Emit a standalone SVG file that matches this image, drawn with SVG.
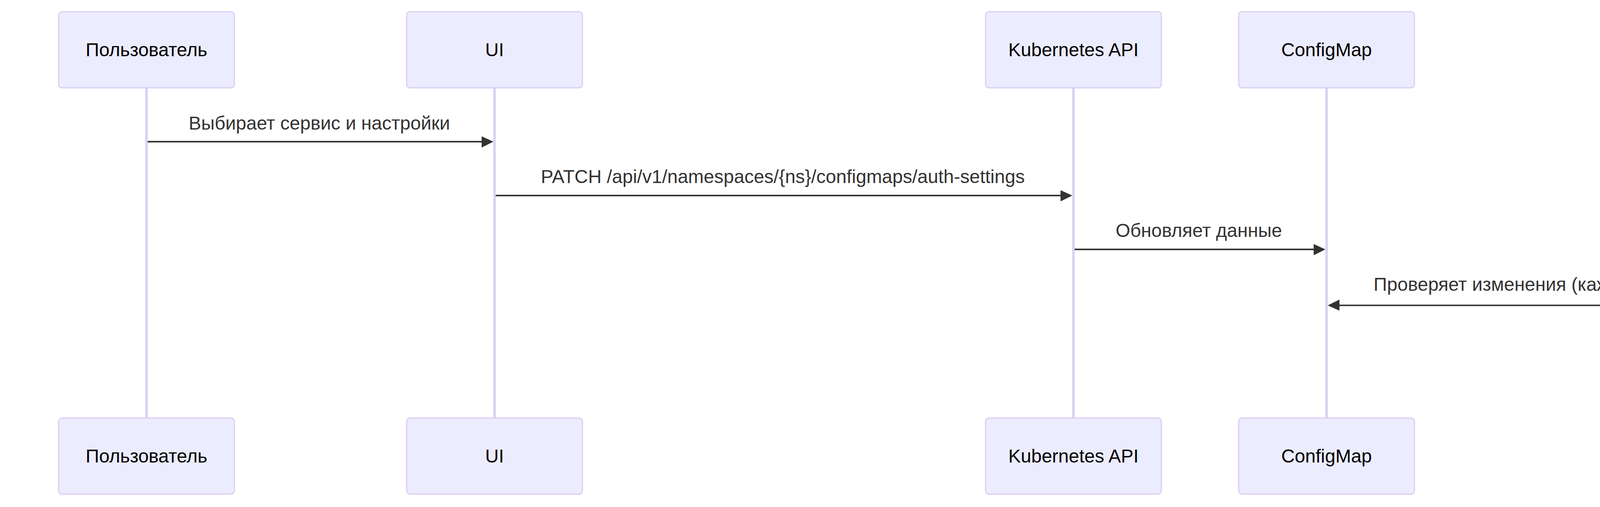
<svg xmlns="http://www.w3.org/2000/svg" width="4975" height="1299" viewBox="0 0 4975 1299">
<style>
.actor{fill:#ECECFF;stroke:#DACEF3;stroke-width:1}
.life{stroke:#DACEF3;stroke-width:2}
.atext{font-family:"Liberation Sans",Arial,sans-serif;font-size:16px;fill:#000;text-anchor:middle}
.mtext{font-family:"Liberation Sans",Arial,sans-serif;font-size:16px;fill:#333;text-anchor:middle}
.msg{stroke:#333;stroke-width:1.3;fill:none}
</style>
<defs>
<marker id="arrowhead" refX="7.9" refY="5" markerUnits="userSpaceOnUse" markerWidth="12" markerHeight="12" orient="auto">
<path d="M -1 0 L 10 5 L 0 10 z" fill="#333"/>
</marker>
</defs>
<rect width="4975" height="1299" fill="#fff"/>
<g transform="matrix(3 0 0 3 150 30)">
<g id="user">
<line class="life" x1="75" y1="65" x2="75" y2="347"/>
<rect class="actor" x="0" y="0" width="150" height="65" rx="3" ry="3"/>
<text class="atext" x="75" y="38">Пользователь</text>
<rect class="actor" x="0" y="347" width="150" height="65" rx="3" ry="3"/>
<text class="atext" x="75" y="385">Пользователь</text>
</g>
<g id="ui">
<line class="life" x1="372" y1="65" x2="372" y2="347"/>
<rect class="actor" x="297" y="0" width="150" height="65" rx="3" ry="3"/>
<text class="atext" x="372" y="38">UI</text>
<rect class="actor" x="297" y="347" width="150" height="65" rx="3" ry="3"/>
<text class="atext" x="372" y="385">UI</text>
</g>
<g id="k8s">
<line class="life" x1="866" y1="65" x2="866" y2="347"/>
<rect class="actor" x="791" y="0" width="150" height="65" rx="3" ry="3"/>
<text class="atext" x="866" y="38">Kubernetes API</text>
<rect class="actor" x="791" y="347" width="150" height="65" rx="3" ry="3"/>
<text class="atext" x="866" y="385">Kubernetes API</text>
</g>
<g id="configmap">
<line class="life" x1="1082" y1="65" x2="1082" y2="347"/>
<rect class="actor" x="1007" y="0" width="150" height="65" rx="3" ry="3"/>
<text class="atext" x="1082" y="38">ConfigMap</text>
<rect class="actor" x="1007" y="347" width="150" height="65" rx="3" ry="3"/>
<text class="atext" x="1082" y="385">ConfigMap</text>
</g>
<g id="sidecar">
<line class="life" x1="1447" y1="65" x2="1447" y2="347"/>
<rect class="actor" x="1372" y="0" width="150" height="65" rx="3" ry="3"/>
<text class="atext" x="1447" y="38">Сайдкар</text>
<rect class="actor" x="1372" y="347" width="150" height="65" rx="3" ry="3"/>
<text class="atext" x="1447" y="385">Сайдкар</text>
</g>
<g id="connectors">
<line class="msg" x1="76" y1="111" x2="368.9" y2="111" marker-end="url(#arrowhead)"/>
<text class="mtext" x="222.5" y="100.5">Выбирает сервис и настройки</text>
<line class="msg" x1="373" y1="157" x2="862.9" y2="157" marker-end="url(#arrowhead)"/>
<text class="mtext" x="618" y="146.3">PATCH /api/v1/namespaces/{ns}/configmaps/auth-settings</text>
<line class="msg" x1="867" y1="203" x2="1078.9" y2="203" marker-end="url(#arrowhead)"/>
<text class="mtext" x="973" y="192.3">Обновляет данные</text>
<line class="msg" x1="1446" y1="250.8" x2="1085.1" y2="250.8" marker-end="url(#arrowhead)"/>
<text class="mtext" x="1265.5" y="238.3">Проверяет изменения (каждые 10 сек)</text>
<path class="msg" style="stroke-width:1.5" d="M 1447 296.7 C 1507 286.7 1507 326.7 1447 316.7" marker-end="url(#arrowhead)"/>
<text class="mtext" x="1447" y="286.1">Применяет новые настройки</text>
</g>
</g>
</svg>
